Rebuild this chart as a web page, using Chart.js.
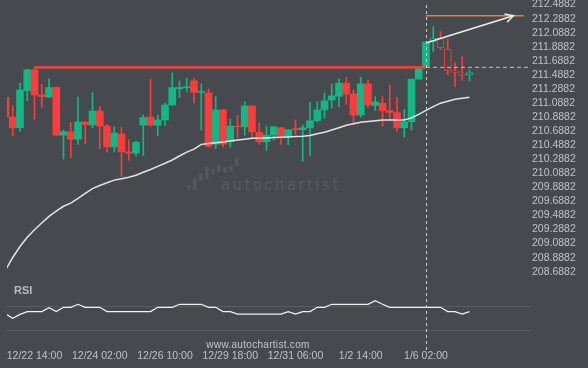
<!DOCTYPE html>
<html>
<head>
<meta charset="utf-8">
<script src="https://cdn.jsdelivr.net/npm/chart.js@4.4.1/dist/chart.umd.min.js"></script>
<style>
  html, body { margin: 0; padding: 0; background: #46494e; }
  canvas { display: block; }
</style>
</head>
<body>
<canvas id="chart" width="588" height="368"></canvas>
<script>
// --- Datos ---
const opens = [211.164, 210.889, 210.736, 211.264, 211.560, 211.203, 211.174, 211.310, 210.631, 210.679,
  210.574, 210.817, 210.774, 210.974, 210.760, 210.464, 210.646, 210.393, 210.374, 210.774,
  210.889, 210.774, 210.846, 211.060, 211.291, 211.307, 211.403, 211.239, 211.231, 210.503,
  210.989, 210.536, 210.760, 210.750, 211.046, 210.670, 210.536, 210.631, 210.736, 210.607,
  210.724, 210.710, 210.736, 210.836, 210.989, 211.131, 211.184, 211.370, 211.217, 210.917,
  211.360, 211.053, 211.084, 210.979, 210.950, 210.736, 210.821, 211.427, 211.607, 211.964,
  212.013, 211.856, 211.546, 211.503, 211.489];
const highs = [211.189, 211.050, 211.370, 211.574, 211.593, 211.356, 211.431, 211.317, 210.703, 210.813,
  211.174, 210.820, 211.234, 211.041, 210.786, 210.750, 210.746, 210.567, 210.546, 210.917,
  211.429, 210.917, 211.089, 211.517, 211.403, 211.439, 211.439, 211.360, 211.289, 211.179,
  210.995, 210.860, 210.910, 211.103, 211.050, 210.803, 210.760, 210.755, 210.740, 210.710,
  210.846, 210.774, 211.099, 211.107, 211.231, 211.357, 211.431, 211.453, 211.274, 211.456,
  211.413, 211.179, 211.179, 211.346, 211.170, 210.999, 211.427, 211.607, 211.956, 212.179,
  212.107, 211.996, 211.660, 211.746, 211.560];
const lows = [210.874, 210.621, 210.689, 211.121, 210.856, 211.021, 211.167, 210.620, 210.289, 210.307,
  210.499, 210.510, 210.736, 210.439, 210.393, 210.393, 210.046, 210.274, 210.331, 210.341,
  210.756, 210.624, 210.764, 211.055, 211.164, 211.250, 211.089, 210.703, 210.460, 210.441,
  210.464, 210.456, 210.596, 210.631, 210.589, 210.503, 210.417, 210.560, 210.500, 210.493,
  210.646, 210.260, 210.339, 210.817, 210.874, 211.017, 211.031, 211.070, 210.789, 210.889,
  211.024, 210.979, 210.760, 210.846, 210.679, 210.599, 210.703, 211.427, 211.607, 211.821,
  211.846, 211.489, 211.324, 211.410, 211.403];
const closes = [210.889, 210.736, 211.274, 211.560, 211.203, 211.179, 211.307, 210.631, 210.679, 210.574,
  210.817, 210.781, 210.974, 210.760, 210.464, 210.660, 210.393, 210.374, 210.529, 210.881,
  210.774, 210.846, 211.060, 211.307, 211.310, 211.320, 211.239, 211.253, 210.474, 210.989,
  210.503, 210.760, 210.750, 211.046, 210.679, 210.536, 210.631, 210.750, 210.617, 210.707,
  210.710, 210.736, 210.836, 210.989, 211.117, 211.189, 211.370, 211.214, 210.917, 211.360,
  211.060, 211.103, 210.979, 210.953, 210.736, 210.821, 211.427, 211.584, 211.956, 212.013,
  211.870, 211.553, 211.524, 211.481, 211.521];
const maVals = [208.713, 208.891, 209.047, 209.179, 209.286, 209.381, 209.476, 209.549, 209.619, 209.663,
  209.731, 209.801, 209.871, 209.914, 209.954, 209.991, 210.011, 210.033, 210.061, 210.103,
  210.143, 210.186, 210.231, 210.277, 210.334, 210.389, 210.431, 210.500, 210.513, 210.524,
  210.534, 210.549, 210.561, 210.574, 210.586, 210.589, 210.591, 210.596, 210.600, 210.604,
  210.610, 210.614, 210.627, 210.650, 210.671, 210.703, 210.737, 210.771, 210.794, 210.814,
  210.826, 210.837, 210.846, 210.846, 210.846, 210.846, 210.877, 210.927, 210.983, 211.036,
  211.086, 211.113, 211.140, 211.156, 211.170];
const rsiVals = [53.5, 49.7, 53, 55.3, 55.3, 55.3, 58.6, 55.3, 58.9, 58.9,
  61.4, 58.9, 58.9, 58.9, 55.3, 55.3, 55.3, 55.3, 55.3, 55.3,
  55.3, 58.9, 58.9, 58.9, 61.4, 61.4, 61.4, 61.4, 58.9, 58.9,
  55.3, 55.3, 53.3, 53.3, 53.3, 53.3, 53.3, 53.3, 53.3, 55.3,
  53.3, 55.3, 55.3, 58.9, 58.9, 61.4, 61.4, 61.4, 61.4, 61.4,
  61.4, 64.4, 61.4, 58.9, 58.9, 58.9, 58.9, 58.9, 58.9, 58.9,
  58.9, 55.3, 55.3, 53.3, 55.3];

const tickIdx = [4, 13, 22, 31, 40, 49, 58];
const tickLabels = ['12/22 14:00', '12/24 02:00', '12/26 10:00', '12/29 18:00', '12/31 06:00', '1/2 14:00', '1/6 02:00'];
const priceTicks = [212.4882, 212.2882, 212.0882, 211.8882, 211.6882, 211.4882, 211.2882, 211.0882, 210.8882, 210.6882,
  210.4882, 210.2882, 210.0882, 209.8882, 209.6882, 209.4882, 209.2882, 209.0882, 208.8882, 208.6882];
const rsiTicks = [40, 60];

// patrón: resistencia, objetivo y flecha de pronóstico
const levelX = [4, 58];
const levelPrice = 211.595;
const targetX = [58, 71.5];
const targetPrice = 212.33;
const arrowX = [58.1, 70.04];
const arrowY = [211.946, 212.33];
const signalIdx = 58;
const hollowFrom = 59;

// --- Estilos ---
const BG = '#46494e';
const GREEN = '#13b784';
const RED = '#fb3c3c';
const LABEL = '#bfc3c7';
const FONT = "'Liberation Sans', Arial, sans-serif";

const idx = opens.map((_, i) => i);
const candleColor = idx.map(i => closes[i] >= opens[i] ? GREEN : RED);

const decor = {
    id: 'decor',
    beforeDraw(chart) {
        const ctx = chart.ctx;
        ctx.save();
        ctx.fillStyle = BG;
        ctx.fillRect(0, 0, chart.width, chart.height);
        ctx.restore();
    },
    beforeDatasetsDraw(chart) {
        // marca de agua
        const ctx = chart.ctx;
        ctx.save();
        ctx.fillStyle = '#54585d';
        const bars = [[187, 185, 190], [193, 178, 190], [199, 173, 181], [205, 167, 179], [211, 169, 174],
            [217, 164, 172], [223, 167, 173], [229, 166, 172], [235, 158, 166]];
        bars.forEach(([x, t, b]) => {
            ctx.beginPath();
            ctx.roundRect(x, t, 3.6, b - t, 1.2);
            ctx.fill();
        });
        ctx.fillStyle = '#595d62';
        ctx.font = '15px "DejaVu Sans", sans-serif';
        if ('letterSpacing' in ctx) ctx.letterSpacing = '2.4px';
        ctx.textBaseline = 'alphabetic';
        ctx.fillText('autochartist', 221, 190);
        ctx.restore();
    },
    afterDatasetsDraw(chart) {
        const { ctx, chartArea, scales } = chart;
        ctx.save();

        // línea vertical de la señal
        const sx = Math.round(scales.x.getPixelForValue(signalIdx)) + 0.5;
        ctx.strokeStyle = '#c9cbcd';
        ctx.lineWidth = 1;
        ctx.setLineDash([3, 3]);
        ctx.beginPath();
        ctx.moveTo(sx, chartArea.top + 5);
        ctx.lineTo(sx, chartArea.bottom + 5);
        ctx.stroke();
        ctx.setLineDash([]);

        // punta de flecha
        const x0 = scales.x.getPixelForValue(arrowX[0]), y0 = scales.y.getPixelForValue(arrowY[0]);
        const x1 = scales.x.getPixelForValue(arrowX[1]), y1 = scales.y.getPixelForValue(arrowY[1]);
        const a = Math.atan2(y1 - y0, x1 - x0);
        ctx.strokeStyle = '#eeeeee';
        ctx.lineWidth = 1.5;
        ctx.beginPath();
        ctx.moveTo(x1 - 9 * Math.cos(a - 0.5), y1 - 9 * Math.sin(a - 0.5));
        ctx.lineTo(x1, y1);
        ctx.lineTo(x1 - 9 * Math.cos(a + 0.5), y1 - 9 * Math.sin(a + 0.5));
        ctx.stroke();

        // textos
        ctx.fillStyle = '#b8bcc0';
        ctx.font = 'bold 11px ' + FONT;
        ctx.textBaseline = 'middle';
        ctx.fillText('RSI', 14, 291);
        ctx.fillStyle = '#c4c6c8';
        ctx.font = '10px ' + FONT;
        if ('letterSpacing' in ctx) ctx.letterSpacing = '0.3px';
        ctx.textAlign = 'center';
        ctx.fillText('www.autochartist.com', 258, 345);
        ctx.restore();
    }
};

const ctx = document.getElementById('chart').getContext('2d');
new Chart(ctx, {
    type: 'bar',
    data: {
        datasets: [
            {
                type: 'bar', label: 'mecha', order: 6, grouped: false, yAxisID: 'y',
                data: idx.map(i => ({ x: i, y: [lows[i], highs[i]] })),
                backgroundColor: candleColor, barThickness: 1
            },
            {
                type: 'bar', label: 'cuerpo', order: 5, grouped: false, yAxisID: 'y',
                data: idx.map(i => ({ x: i, y: [opens[i], closes[i]] })),
                backgroundColor: idx.map(i => i >= hollowFrom ? BG : candleColor[i]),
                borderColor: candleColor,
                borderWidth: idx.map(i => i >= hollowFrom ? 1 : 0),
                borderSkipped: false, barThickness: 7
            },
            {
                type: 'line', label: 'MA', order: 4, yAxisID: 'y',
                data: idx.map(i => ({ x: i, y: maVals[i] })),
                borderColor: '#e4e4e4', borderWidth: 1.5, pointRadius: 0, tension: 0
            },
            {
                type: 'line', label: 'resistencia', order: 3, yAxisID: 'y',
                data: levelX.map(x => ({ x, y: levelPrice })),
                borderColor: '#dc4644', borderWidth: 2.6, pointRadius: 0
            },
            {
                type: 'line', label: 'nivel', order: 3, yAxisID: 'y',
                data: [{ x: levelX[1], y: levelPrice }, { x: 80, y: levelPrice }],
                borderColor: '#bfc1c3', borderWidth: 1, borderDash: [4, 3], pointRadius: 0
            },
            {
                type: 'line', label: 'objetivo', order: 2, yAxisID: 'y',
                data: targetX.map(x => ({ x, y: targetPrice })),
                borderColor: '#f0773a', borderWidth: 1.5, pointRadius: 0
            },
            {
                type: 'line', label: 'flecha', order: 1, yAxisID: 'y',
                data: arrowX.map((x, k) => ({ x, y: arrowY[k] })),
                borderColor: '#eeeeee', borderWidth: 1.5, pointRadius: 0
            },
            {
                type: 'line', label: 'RSI', order: 1, yAxisID: 'rsi',
                data: idx.map(i => ({ x: i, y: rsiVals[i] })),
                borderColor: '#f2f2f2', borderWidth: 1.2, pointRadius: 0, tension: 0
            }
        ]
    },
    options: {
        responsive: false,
        animation: false,
        events: [],
        devicePixelRatio: 1,
        layout: { padding: { left: 7, top: 0, right: 0, bottom: 0 } },
        plugins: { legend: { display: false }, tooltip: { enabled: false } },
        scales: {
            x: {
                type: 'linear', min: 0.207, max: 72.345, offset: false,
                grid: { display: false, offset: false, drawTicks: false }, border: { display: false },
                afterBuildTicks: s => { s.ticks = tickIdx.map(v => ({ value: v })); },
                afterFit: s => { s.height = 23; s.paddingLeft = 0; s.paddingRight = 0; },
                ticks: {
                    autoSkip: false, maxRotation: 0, padding: 5, color: LABEL,
                    font: { family: FONT, size: 10.5 },
                    callback: v => tickLabels[tickIdx.indexOf(v)] ?? ''
                }
            },
            rsi: {
                type: 'linear', position: 'right', weight: 0, min: 27.5, max: 315,
                afterBuildTicks: s => { s.ticks = rsiTicks.map(v => ({ value: v })); },
                afterFit: s => { s.width = 0; s.paddingTop = 0; s.paddingBottom = 0; },
                grid: { color: '#5b5f5c', drawTicks: false, lineWidth: 1 }, border: { display: false },
                ticks: { padding: 2, color: LABEL, font: { family: FONT, size: 10.5 } }
            },
            y: {
                type: 'linear', position: 'right', weight: 1, min: 207.6458, max: 212.5533,
                afterBuildTicks: s => { s.ticks = priceTicks.map(v => ({ value: v })); },
                afterFit: s => { s.width = 58; s.paddingTop = 0; s.paddingBottom = 0; },
                grid: { display: false, drawTicks: false }, border: { display: false },
                ticks: {
                    padding: 2, color: LABEL, font: { family: FONT, size: 10.5 },
                    callback: v => Number(v).toFixed(4)
                }
            }
        }
    },
    plugins: [decor]
});
</script>
</body>
</html>
